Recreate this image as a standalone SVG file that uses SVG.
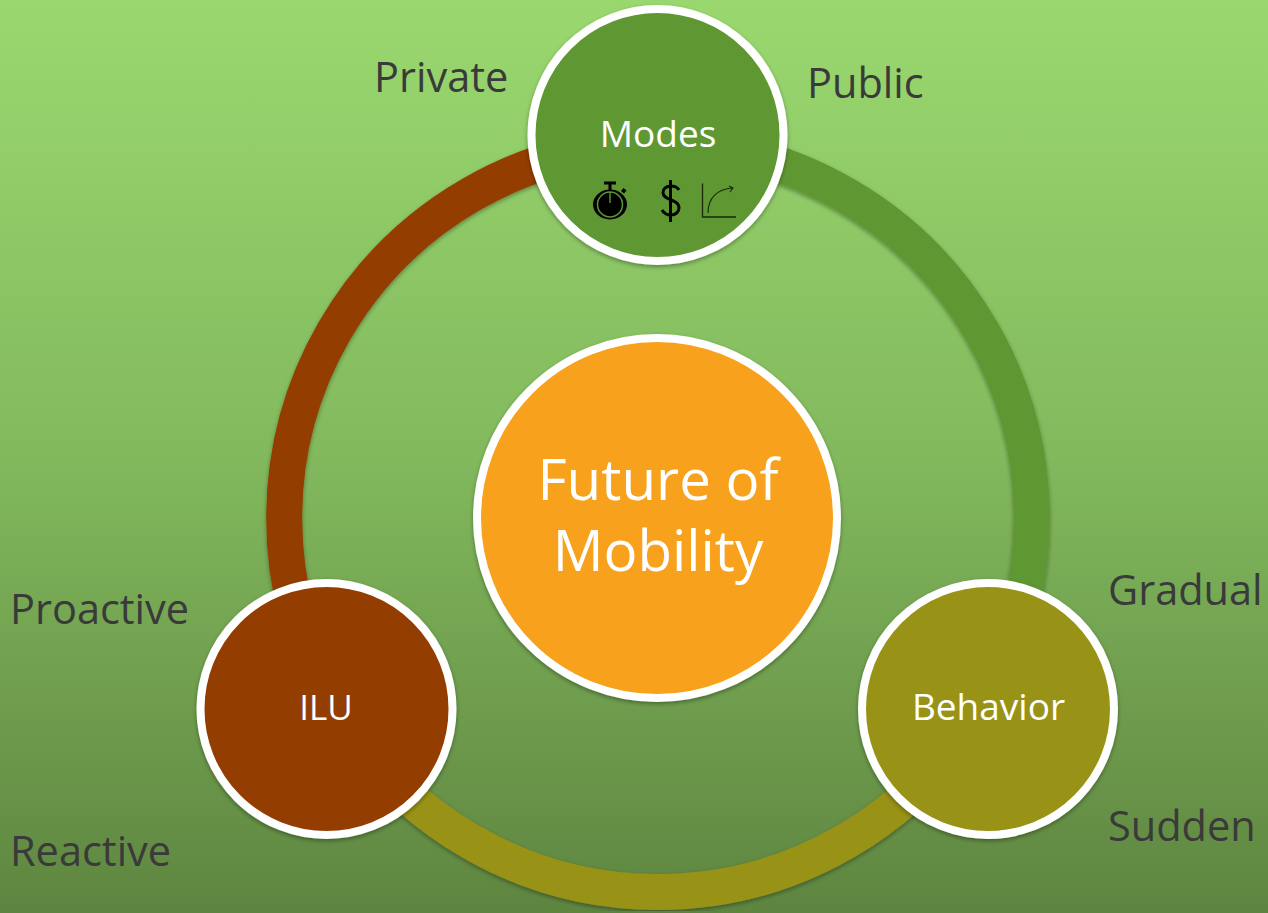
<svg xmlns="http://www.w3.org/2000/svg" width="1268" height="913" viewBox="0 0 1268 913">
<defs>
<linearGradient id="bg" x1="0" y1="0" x2="0" y2="1"><stop offset="0" stop-color="#9ad86f"/><stop offset="0.5" stop-color="#82b95d"/><stop offset="1" stop-color="#5e8540"/></linearGradient>
<filter id="sh" x="-10%" y="-10%" width="120%" height="120%"><feDropShadow dx="0" dy="2" stdDeviation="2" flood-color="#000" flood-opacity="0.35"/></filter>
</defs>
<style>
.lab{font-family:"Open Sans","Noto Sans",sans-serif;font-size:41.5px;fill:#3a3a3a}
.nt{font-family:"Open Sans","Noto Sans",sans-serif;fill:#fff;text-anchor:middle}
.arc{fill:none;stroke-width:36;filter:url(#sh)}
.node{stroke:#fff;stroke-width:8;filter:url(#sh)}
</style>
<rect width="1268" height="913" fill="url(#bg)"/>
<g id="connectors">
<path class="arc" stroke="#933c05" d="M658 144.500A373.500 373.500 0 0 0 334.500 705.200"/>
<path class="arc" stroke="#5e9732" d="M658 144.500A373.500 373.500 0 0 1 981.500 705.200"/>
<path class="arc" stroke="#989217" d="M334.500 705.200A373.500 373.500 0 0 0 981.500 705.200"/>
</g>
<g id="node-center"><circle class="node" cx="657" cy="518" r="180" fill="#f7a11a"/>
<text class="nt" font-size="56.500" x="658" y="500">Future of</text><text class="nt" font-size="56.500" x="658" y="571">Mobility</text></g>
<g id="node-modes"><circle class="node" cx="657.500" cy="135" r="126" fill="#5e9732"/>
<text class="nt" font-size="37" x="658" y="147">Modes</text>
<g id="icons">
<ellipse cx="610" cy="204.500" rx="17" ry="15" fill="#000"/><circle cx="610" cy="204.500" r="12.500" fill="none" stroke="#5e9732" stroke-width="1.500"/>
<rect x="604" y="181.500" width="12" height="3" fill="#000"/><rect x="608.500" y="184" width="3" height="6" fill="#000"/><path d="M621 191l2.500-3 3 2.500-2.500 3z" fill="#000"/><rect x="609.300" y="192" width="1.400" height="11" fill="#5e9732"/>
<path d="M679 190c-1.800-3-5-4-8-4-5 0-8 3-8 6.500 0 8.500 16 6 16 15.500 0 4-3.500 7-8 7-4 0-7-1.500-9-5M670.500 180v42" fill="none" stroke="#000" stroke-width="3"/>
<path d="M702.500 183.500v33.500h33.500" fill="none" stroke="#1a2a0a" stroke-width="1.300"/>
<path d="M708 213c0-14 8-24 25-25M729 186l4 2-3 4" fill="none" stroke="#1a2a0a" stroke-width="1.100"/>
</g></g>
<g id="node-ilu"><circle class="node" cx="326.500" cy="709" r="126" fill="#933c05"/>
<text class="nt" font-size="35" x="326" y="720">ILU</text></g>
<g id="node-behavior"><circle class="node" cx="988" cy="709" r="126" fill="#989217"/>
<text class="nt" font-size="37" x="988.500" y="720">Behavior</text></g>
<g id="labels">
<text class="lab" x="374" y="92">Private</text>
<text class="lab" x="807" y="98">Public</text>
<text class="lab" x="1108" y="605">Gradual</text>
<text class="lab" x="1108" y="841">Sudden</text>
<text class="lab" x="10" y="624">Proactive</text>
<text class="lab" x="10" y="866">Reactive</text>
</g>
</svg>
